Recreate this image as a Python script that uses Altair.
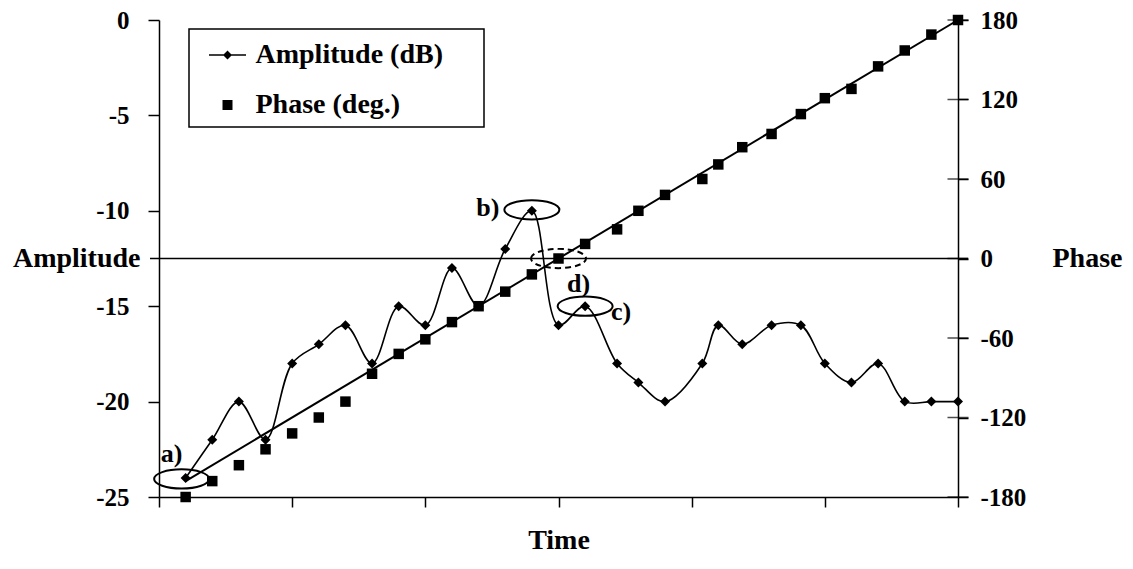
import altair as alt
import pandas as pd

# ---------------- data ----------------
time_vals = [1, 2, 3, 4, 5, 6, 7, 8, 9, 10, 11, 12, 13, 14, 15,
             16, 17.2, 18, 19, 20.4, 21, 21.9, 23, 24.1, 25, 26, 27, 28, 29, 30]
amplitude_db = [-24, -22, -20, -22, -18, -17, -16, -18, -15, -16, -13, -15, -12, -10, -16,
                -15, -18, -19, -20, -18, -16, -17, -16, -16, -18, -19, -18, -20, -20, -20]
phase_deg = [-180, -168, -156, -144, -132, -120, -108, -87, -72, -61, -48, -36, -25, -12, 0,
             11, 22, 36, 48, 60, 71, 84, 94, 109, 121, 128, 145, 157, 169, 180]
trend_time = [1, 30]
trend_phase = [-168, 180]
series_names = ["Amplitude (dB)", "Phase (deg.)"]
amp_ticks = [-25, -20, -15, -10, -5, 0]
phase_ticks = [-180, -120, -60, 0, 60, 120, 180]
time_ticks = [0, 5, 10, 15, 20, 25, 30]
phase_reference = [0]
annot_labels = ["a)", "b)", "c)", "d)"]
annot_point = [0, 13, 15, 14]
annot_axis = ["amp", "amp", "amp", "phase"]

# ---------------- styling ----------------
FONT = "Liberation Serif"
W, H = 799, 477
ELLIPSE = "M -1 0 A 1 0.35 0 1 1 1 0 A 1 0.35 0 1 1 -1 0 Z"
# legend glyphs: a thin bar with a diamond (line + marker), and a square
AMP_SYMBOL = ("M -1.85 -0.075 L 1.85 -0.075 L 1.85 0.075 L -1.85 0.075 Z "
              "M 0 -0.45 L 0.45 0 L 0 0.45 L -0.45 0 Z")
PH_SYMBOL = "M -0.5 -0.5 L 0.5 -0.5 L 0.5 0.5 L -0.5 0.5 Z"
LEGEND_BOX = dict(x=30, x2=325, y=9, y2=107)  # frame around the legend, in px
annot_style = {
    "a)": dict(ex=-4, ey=1, tx=-14, ty=-24, dash=None),
    "b)": dict(ex=0, ey=-1, tx=-44, ty=-3, dash=None),
    "c)": dict(ex=0, ey=0, tx=36, ty=6, dash=None),
    "d)": dict(ex=0, ey=0, tx=20, ty=25, dash=[6, 4]),
}

df = pd.DataFrame({"time": time_vals, "amp": amplitude_db, "phase": phase_deg,
                   "series": series_names[0]})
trend = pd.DataFrame({"time": trend_time, "phase": trend_phase})
ptick_df = pd.DataFrame({"phase": phase_ticks, "time": max(time_vals)})
zero_df = pd.DataFrame({"phase": phase_reference})
frame_df = pd.DataFrame({"series": series_names[:1]})

xs = alt.Scale(domain=[0, 30], nice=False, zero=False)
amp_scale = alt.Scale(domain=[-25, 0], nice=False, zero=False)
ph_scale = alt.Scale(domain=[-180, 180], nice=False, zero=False)

x_axis = alt.Axis(values=time_ticks, labels=False, tickSize=10, title="Time",
                  titleY=43, titleBaseline="middle", grid=False)
x_enc = alt.X("time:Q", scale=xs, axis=x_axis)

amp_axis = alt.Axis(values=amp_ticks, orient="left", tickSize=11, labelPadding=19,
                    labelExpr="'' + datum.value",
                    title="Amplitude", titleAngle=0, titleAlign="right",
                    titleBaseline="middle", titleX=-19, titleY=H / 2, grid=False,
                    labelOverlap=False)
ph_axis = alt.Axis(values=phase_ticks, orient="right", tickSize=10, labelPadding=12,
                   labelExpr="'' + datum.value",
                   title="Phase", titleAngle=0, titleAlign="left",
                   titleBaseline="middle", titleX=94, titleY=H / 2, grid=False,
                   labelOverlap=False)


def ya(axis=None):
    return alt.Y("amp:Q", scale=amp_scale, axis=axis)


def yp(axis=None):
    return alt.Y("phase:Q", scale=ph_scale, axis=axis)


# ---------------- legend frame ----------------
frame = alt.Chart(frame_df).mark_rect(fill="white", stroke="black",
                                      strokeWidth=1.5).encode(
    x=alt.value(LEGEND_BOX["x"]), x2=alt.value(LEGEND_BOX["x2"]),
    y=alt.value(LEGEND_BOX["y"]), y2=alt.value(LEGEND_BOX["y2"]))

# ---------------- amplitude ----------------
amp_line = alt.Chart(df).mark_line(interpolate="catmull-rom", color="black",
                                   strokeWidth=1.6).encode(x=x_enc, y=ya(amp_axis))
amp_pts = alt.Chart(df).mark_point(shape="diamond", filled=True, size=100,
                                   color="black", opacity=1).encode(x=x_enc, y=ya())

legend_layer = alt.Chart(df).mark_point(filled=True, opacity=0, size=400,
                                        color="black").encode(
    x=x_enc, y=ya(),
    shape=alt.Shape("series:N",
                    scale=alt.Scale(domain=series_names, range=[AMP_SYMBOL, PH_SYMBOL]),
                    legend=alt.Legend(title=None, orient="none", legendX=30, legendY=9,
                                      padding=12, rowPadding=22, symbolOffset=12.5,
                                      labelOffset=14, labelFont=FONT,
                                      labelFontWeight="bold", labelFontSize=28,
                                      labelColor="black", labelLimit=600,
                                      symbolSize=400, symbolFillColor="black",
                                      symbolStrokeColor="black", symbolStrokeWidth=0.5,
                                      symbolOpacity=1)))


def annotation(i, field):
    name = annot_labels[i]
    idx = annot_point[i]
    st = annot_style[name]
    row = pd.DataFrame({"time": [time_vals[idx]],
                        field: [amplitude_db[idx] if field == "amp" else phase_deg[idx]],
                        "label": [name]})
    ek = dict(shape=ELLIPSE, size=3025, filled=False, color="black", strokeWidth=2,
              opacity=1, xOffset=st["ex"], yOffset=st["ey"])
    if st["dash"]:
        ek["strokeDash"] = st["dash"]
    y = ya() if field == "amp" else yp()
    ell = alt.Chart(row).mark_point(**ek).encode(x=x_enc, y=y)
    txt = alt.Chart(row).mark_text(font=FONT, fontWeight="bold", fontSize=26,
                                   color="black", dx=st["tx"], dy=st["ty"],
                                   align="center", baseline="middle").encode(
        x=x_enc, y=y, text="label:N")
    return [ell, txt]


ann = []
for i, ax in enumerate(annot_axis):
    ann += annotation(i, ax)

# ---------------- phase ----------------
ph_pts = alt.Chart(df).mark_square(size=110, color="black", opacity=1).encode(
    x=x_enc, y=yp(ph_axis))
zero_rule = alt.Chart(zero_df).mark_rule(color="black", strokeWidth=1.5).encode(
    y=yp(), x=alt.value(-9), x2=alt.value(W + 10))
ph_ticks = alt.Chart(ptick_df).mark_tick(orient="horizontal", size=21, thickness=1.5,
                                         color="black").encode(x=x_enc, y=yp())
trend_line = alt.Chart(trend).mark_line(color="black", strokeWidth=2).encode(
    x=x_enc, y=yp())

chart = alt.layer(frame, amp_line, ph_pts, amp_pts, zero_rule, ph_ticks, trend_line,
                  legend_layer, *ann).resolve_scale(y="independent").properties(
    width=W, height=H,
    autosize=alt.AutoSizeParams(type="none"),
    padding={"left": 151, "top": 12, "right": 167, "bottom": 64},
).configure_view(stroke=None).configure_axis(
    labelFont=FONT, labelFontWeight="bold", labelFontSize=25, labelColor="black",
    titleFont=FONT, titleFontWeight="bold", titleFontSize=28, titleColor="black",
    domainColor="black", tickColor="black", domainWidth=1.5, tickWidth=1.5,
)

chart.save("out.html", embed_options={"renderer": "svg", "actions": False})
